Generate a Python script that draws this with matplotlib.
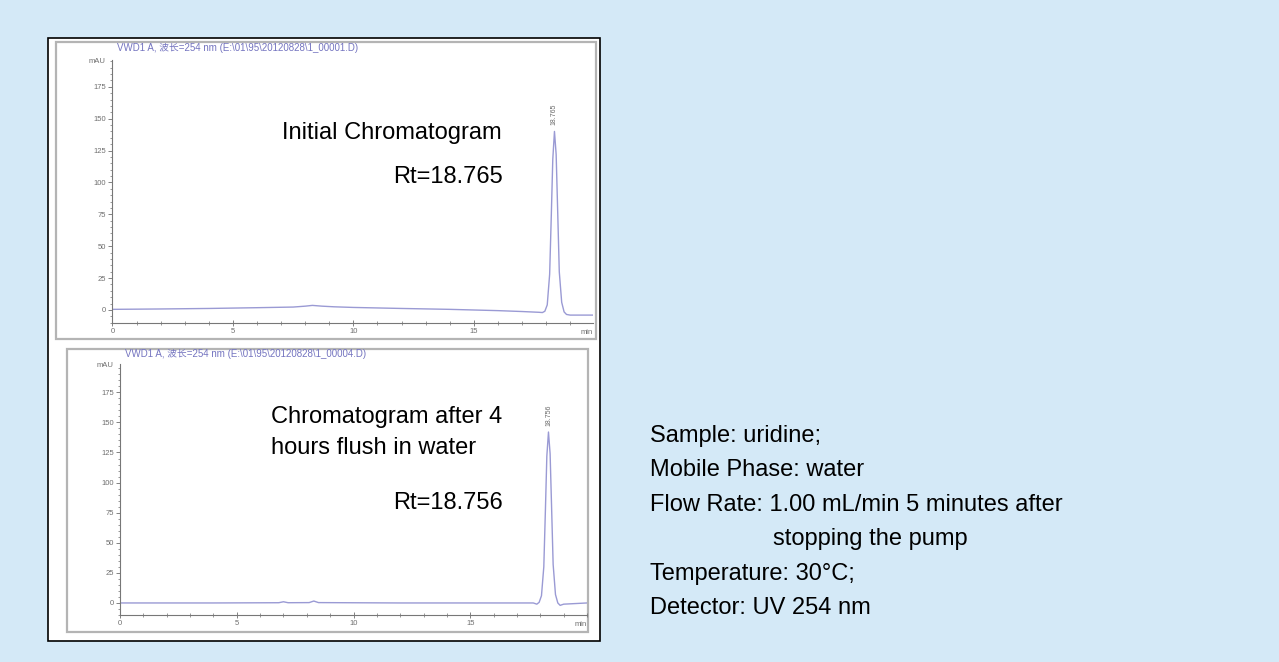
import matplotlib
matplotlib.use('Agg')
import matplotlib.pyplot as plt
from matplotlib.patches import Rectangle
from matplotlib.ticker import MultipleLocator

plt.rcParams['font.family'] = ['Liberation Sans', 'Noto Sans CJK SC', 'DejaVu Sans']

W, H = 1279, 662

# initial run (top chromatogram)
t_init = [0.0, 2.0, 4.0, 6.0, 7.5, 8.0, 8.3, 8.7, 9.2, 10.0, 12.0, 14.0, 16.0, 17.0, 17.7, 17.85,
          17.95, 18.05, 18.15, 18.22, 18.28, 18.35, 18.42, 18.48, 18.55, 18.65, 18.75, 18.85, 19.0, 19.95]
s_init = [0.5, 0.8, 1.2, 1.8, 2.3, 3.0, 3.6, 3.0, 2.5, 2.0, 1.2, 0.5, -0.5, -1.2, -1.8, -2.0,
          -1.0, 4.0, 28.0, 75.0, 118.0, 140.0, 122.0, 80.0, 30.0, 6.0, -1.5, -3.5, -4.0, -4.0]
rt_init = 18.35
rt_init_label = '18.765'

# after 4 hours flush (bottom chromatogram)
t_flush = [0.0, 4.0, 6.8, 7.0, 7.2, 8.1, 8.3, 8.5, 12.0, 16.0, 17.7, 17.85, 17.95, 18.05, 18.15,
           18.22, 18.28, 18.35, 18.42, 18.48, 18.55, 18.65, 18.75, 18.85, 19.0, 20.0]
s_flush = [0.0, 0.0, 0.2, 1.0, 0.2, 0.3, 1.6, 0.3, 0.0, 0.0, 0.0, -1.0, 0.5, 6.0, 30.0,
           78.0, 122.0, 142.0, 124.0, 82.0, 32.0, 7.0, 0.0, -2.0, -1.0, 0.0]
rt_flush = 18.35
rt_flush_label = '18.756'

y_ticks = [0, 25, 50, 75, 100, 125, 150, 175]
x_ticks = [0, 5, 10, 15]

conditions = ['Sample: uridine;',
              'Mobile Phase: water',
              'Flow Rate: 1.00 mL/min 5 minutes after',
              '            stopping the pump',
              'Temperature: 30°C;',
              'Detector: UV 254 nm']

bg = '#d4e9f7'
line_col = '#9a9ad4'
tick_col = '#6e6e6e'


def px_rect(x0, y0, x1, y1):
    return [x0 / W, 1 - y1 / H, (x1 - x0) / W, (y1 - y0) / H]


def ftext(x, y, s, **kw):
    fig.text(x / W, 1 - y / H, s, **kw)


fig = plt.figure(figsize=(W / 100, H / 100), dpi=100)
fig.patch.set_facecolor(bg)

# white box and the two scanned panel frames
fig.patches.append(Rectangle((48 / W, 1 - 641 / H), 552 / W, 603 / H, transform=fig.transFigure,
                             facecolor='white', edgecolor='black', lw=1.2, zorder=-2))
for x0, y0, x1, y1 in [(56, 42, 596, 339), (67, 349, 588, 632)]:
    fig.patches.append(Rectangle((x0 / W, 1 - y1 / H), (x1 - x0) / W, (y1 - y0) / H,
                                 transform=fig.transFigure, facecolor='white',
                                 edgecolor='#b4b4b4', lw=1.6, zorder=-1))


def chrom(rect, t, s, xmax, ylim, rt, rt_label):
    ax = fig.add_axes(rect)
    ax.patch.set_alpha(0)
    ax.plot(t, s, color=line_col, lw=1.0)
    ax.set_xlim(0, xmax)
    ax.set_ylim(*ylim)
    for sp in ['top', 'right']:
        ax.spines[sp].set_visible(False)
    for sp in ['left', 'bottom']:
        ax.spines[sp].set_color('#777777')
        ax.spines[sp].set_linewidth(0.8)
    ax.set_yticks(y_ticks)
    ax.set_xticks(x_ticks)
    ax.yaxis.set_minor_locator(MultipleLocator(5))
    ax.xaxis.set_minor_locator(MultipleLocator(1))
    ax.tick_params(axis='y', which='major', length=3, width=0.6, color=tick_col,
                   labelsize=5.5, labelcolor=tick_col, pad=1.5)
    ax.tick_params(axis='y', which='minor', length=1.5, width=0.5, color=tick_col)
    ax.tick_params(axis='x', which='major', direction='inout', length=5, width=0.6,
                   color=tick_col, labelsize=5.5, labelcolor=tick_col, pad=1)
    ax.tick_params(axis='x', which='minor', direction='inout', length=3, width=0.5, color=tick_col)
    ax.annotate('mAU', xy=(0, 1), xycoords='axes fraction', xytext=(-5, -1),
                textcoords='offset points', ha='right', va='center', fontsize=5.5, color=tick_col)
    ax.annotate('min', xy=(1, 0), xycoords='axes fraction', xytext=(0, -7),
                textcoords='offset points', ha='right', va='center', fontsize=5.5, color=tick_col)
    ax.text(rt, max(s) + 5, rt_label, rotation=90, ha='center', va='bottom',
            fontsize=5, color='#6a6a6a')
    return ax


chrom(px_rect(112.5, 60, 593, 323), t_init, s_init, 19.95, (-10.2, 196), rt_init, rt_init_label)
chrom(px_rect(120, 364, 587, 615), t_flush, s_flush, 20.0, (-10, 198.5), rt_flush, rt_flush_label)

# scanned panel headers
ftext(117, 48, 'VWD1 A, 波长=254 nm (E:\\01\\95\\20120828\\1_00001.D)', fontsize=7,
      color='#7474c0', va='center')
ftext(125, 354, 'VWD1 A, 波长=254 nm (E:\\01\\95\\20120828\\1_00004.D)', fontsize=7,
      color='#7474c0', va='center')

# annotations inside the chromatograms
ann = dict(fontsize=17, color='black', va='center')
ftext(282, 133, 'Initial Chromatogram', ha='left', **ann)
ftext(503, 177, 'Rt=18.765', ha='right', **ann)
ftext(271, 417, 'Chromatogram after 4', ha='left', **ann)
ftext(271, 448, 'hours flush in water', ha='left', **ann)
ftext(503, 503, 'Rt=18.756', ha='right', **ann)

# run conditions
for i, line in enumerate(conditions):
    x = 650
    if line.startswith(' '):
        x = 773
        line = line.strip()
    ftext(x, 436 + i * 34.4, line, ha='left', **ann)

fig.savefig('out.png', dpi=100, facecolor=fig.get_facecolor())
